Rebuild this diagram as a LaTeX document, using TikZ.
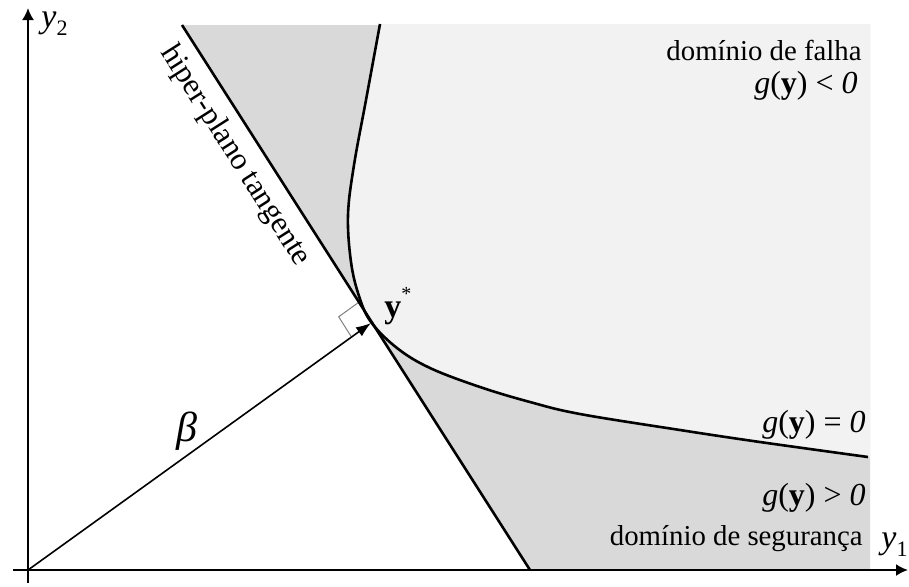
\documentclass[tikz,border=0pt]{standalone}
\usepackage{fontspec}
\setmainfont{Liberation Serif}
\usetikzlibrary{arrows.meta,calc}
\definecolor{lightfail}{HTML}{F2F2F2}
\definecolor{darksafe}{HTML}{D9D9D9}
\begin{document}
\begin{tikzpicture}[x=0.5pt,y=-0.5pt,
  axis/.style={line width=1pt,-{Latex[length=6pt,width=6pt]}},
  bound/.style={line width=1.3pt},
  lbl/.style={inner sep=0pt, font=\fontsize{14.4}{17}\selectfont},
  eq/.style={inner sep=0pt, font=\fontsize{16}{19}\selectfont},
  axlbl/.style={inner sep=0pt, anchor=base west, font=\fontsize{17}{20}\selectfont},
]
\useasboundingbox (0,0) rectangle (909,586);
\coordinate (O) at (28,570);
\coordinate (lineTop) at (182,25);
\coordinate (lineBot) at (530,570);
\coordinate (ystar) at (371,323);
\coordinate (xstart) at (13,570);
\coordinate (xend) at (908,570);
\coordinate (ystart) at (28,583);
\coordinate (yend) at (28,8);
% shaded regions
\fill[darksafe] (lineTop) -- (870,25) -- (870,570) -- (lineBot) -- cycle;
\fill[lightfail] plot[smooth,tension=0.6] coordinates {(380,24) (366,100) (354,165) (348,215) (351,262) (359,296) (371,322) (397,348) (430,368) (480,387) (530,402) (580,414) (680,430) (760,442) (868,457)} -- (870,457) -- (870,24) -- cycle;
% right-angle marker
\coordinate (ra1) at ($(ystar)!12pt!(lineTop)$);
\coordinate (ra2) at ($(ystar)!12pt!(O)$);
\draw[gray, line width=0.5pt] (ra1) -- ($(ra1)+(ra2)-(ystar)$) -- (ra2);
% tangent hyperplane and limit state
\draw[bound] (lineTop) -- (lineBot);
\draw[bound] plot[smooth,tension=0.6] coordinates {(380,24) (366,100) (354,165) (348,215) (351,262) (359,296) (371,322) (397,348) (430,368) (480,387) (530,402) (580,414) (680,430) (760,442) (868,457)};
% beta vector
\draw[line width=0.8pt, -{Latex[length=7.5pt,width=5.5pt]}] (O) -- (ystar);
% axes
\draw[axis] (xstart) -- (xend);
\draw[axis] (ystart) -- (yend);
% labels
\node[axlbl] (y2) at (41,27) {\textit{y}\raisebox{-0.25em}{\fontsize{11}{12}\selectfont 2}};
\node[axlbl] (y1) at (881,548) {\textit{y}\raisebox{-0.25em}{\fontsize{11}{12}\selectfont 1}};
\node[lbl, anchor=base east] (falha) at (862,60) {domínio de falha};
\node[eq, anchor=base east] (gneg) at (858,93) {\textit{g}(\textbf{y}) < \textit{0}};
\node[eq, anchor=base east] (gzero) at (866,432) {\textit{g}(\textbf{y}) = \textit{0}};
\node[eq, anchor=base east] (gpos) at (866,505) {\textit{g}(\textbf{y}) > \textit{0}};
\node[lbl, anchor=base east] (seg) at (863,545) {domínio de segurança};
\node[axlbl] (ys) at (384,317) {\textbf{y}\raisebox{0.5em}{\fontsize{10}{12}\selectfont *}};
\node[inner sep=0pt, anchor=base west, font=\fontsize{21}{24}\selectfont] (beta) at (176,441) {\textit{β}};
\node[inner sep=0pt, rotate=-57.5, font=\fontsize{15.5}{18}\selectfont] (hip) at (235,156) {hiper-plano tangente};
\end{tikzpicture}
\end{document}
